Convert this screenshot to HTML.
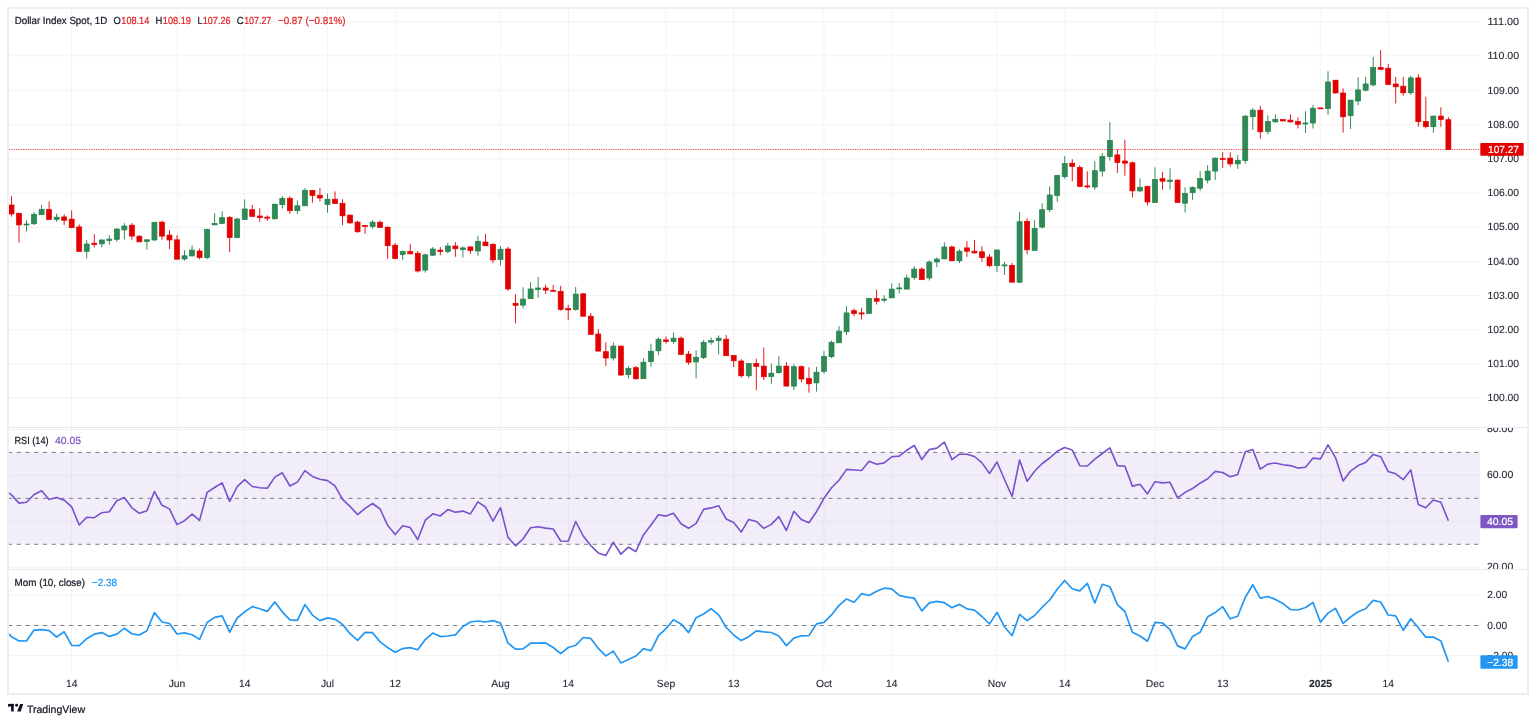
<!DOCTYPE html>
<html><head><meta charset="utf-8"><title>Dollar Index Spot</title>
<style>html,body{margin:0;padding:0;background:#fff;width:1536px;height:722px;overflow:hidden;font-family:"Liberation Sans",sans-serif}</style>
</head><body>
<svg width="1536" height="722" viewBox="0 0 1536 722" style="position:absolute;left:0;top:0;will-change:transform;text-rendering:geometricPrecision" font-family="Liberation Sans, sans-serif">
<defs>
<clipPath id="cm"><rect x="9" y="9" width="1471" height="418"/></clipPath>
<clipPath id="cr"><rect x="9" y="428" width="1471" height="141"/></clipPath>
<clipPath id="cmo"><rect x="9" y="570" width="1471" height="101"/></clipPath>
<clipPath id="am"><rect x="1480" y="9" width="47" height="418"/></clipPath>
<clipPath id="ar"><rect x="1480" y="428" width="47" height="141"/></clipPath>
<clipPath id="amo"><rect x="1480" y="570" width="47" height="101"/></clipPath>
</defs>
<rect width="1536" height="722" fill="#ffffff"/>
<rect x="8" y="8" width="1520" height="686" fill="none" stroke="#eeeff3" stroke-width="2"/>
<rect x="9" y="21.20" width="1471" height="1" fill="#f2f4f4"/>
<rect x="9" y="55.40" width="1471" height="1" fill="#f2f4f4"/>
<rect x="9" y="90.10" width="1471" height="1" fill="#f2f4f4"/>
<rect x="9" y="124.20" width="1471" height="1" fill="#f2f4f4"/>
<rect x="9" y="158.50" width="1471" height="1" fill="#f2f4f4"/>
<rect x="9" y="192.80" width="1471" height="1" fill="#f2f4f4"/>
<rect x="9" y="226.90" width="1471" height="1" fill="#f2f4f4"/>
<rect x="9" y="261.00" width="1471" height="1" fill="#f2f4f4"/>
<rect x="9" y="295.10" width="1471" height="1" fill="#f2f4f4"/>
<rect x="9" y="329.20" width="1471" height="1" fill="#f2f4f4"/>
<rect x="9" y="363.10" width="1471" height="1" fill="#f2f4f4"/>
<rect x="9" y="397.10" width="1471" height="1" fill="#f2f4f4"/>
<rect x="71.00" y="9" width="1" height="662" fill="#f2f4f4"/>
<rect x="177.05" y="9" width="1" height="662" fill="#f2f4f4"/>
<rect x="243.80" y="9" width="1" height="662" fill="#f2f4f4"/>
<rect x="326.90" y="9" width="1" height="662" fill="#f2f4f4"/>
<rect x="395.20" y="9" width="1" height="662" fill="#f2f4f4"/>
<rect x="500.00" y="9" width="1" height="662" fill="#f2f4f4"/>
<rect x="568.10" y="9" width="1" height="662" fill="#f2f4f4"/>
<rect x="665.50" y="9" width="1" height="662" fill="#f2f4f4"/>
<rect x="733.10" y="9" width="1" height="662" fill="#f2f4f4"/>
<rect x="823.47" y="9" width="1" height="662" fill="#f2f4f4"/>
<rect x="891.56" y="9" width="1" height="662" fill="#f2f4f4"/>
<rect x="996.30" y="9" width="1" height="662" fill="#f2f4f4"/>
<rect x="1064.80" y="9" width="1" height="662" fill="#f2f4f4"/>
<rect x="1155.06" y="9" width="1" height="662" fill="#f2f4f4"/>
<rect x="1222.30" y="9" width="1" height="662" fill="#f2f4f4"/>
<rect x="1319.70" y="9" width="1" height="662" fill="#f2f4f4"/>
<rect x="1388.00" y="9" width="1" height="662" fill="#f2f4f4"/>
<rect x="9" y="428.94" width="1471" height="1" fill="#f2f4f4"/>
<rect x="9" y="474.88" width="1471" height="1" fill="#f2f4f4"/>
<rect x="9" y="520.82" width="1471" height="1" fill="#f2f4f4"/>
<rect x="9" y="566.76" width="1471" height="1" fill="#f2f4f4"/>
<rect x="9" y="452.41" width="1471" height="91.88" fill="rgb(126,87,194)" fill-opacity="0.1"/>
<rect x="9" y="594.90" width="1471" height="1" fill="#f2f4f4"/>
<rect x="9" y="625.00" width="1471" height="1" fill="#f2f4f4"/>
<rect x="9" y="655.10" width="1471" height="1" fill="#f2f4f4"/>
<line x1="9" y1="452.41" x2="1480" y2="452.41" stroke="#787b86" stroke-width="1" stroke-dasharray="4 4.727" stroke-dashoffset="0.9"/>
<line x1="9" y1="498.35" x2="1480" y2="498.35" stroke="#787b86" stroke-width="1" stroke-dasharray="4 4.727" stroke-dashoffset="0.9"/>
<line x1="9" y1="544.29" x2="1480" y2="544.29" stroke="#787b86" stroke-width="1" stroke-dasharray="4 4.727" stroke-dashoffset="0.9"/>
<line x1="9" y1="625.50" x2="1480" y2="625.50" stroke="#787b86" stroke-width="1" stroke-dasharray="4 4.727" stroke-dashoffset="0.9"/>
<rect x="9" y="427" width="1518" height="1" fill="#eae8f2"/>
<rect x="9" y="569" width="1518" height="1" fill="#eae8f2"/>
<g clip-path="url(#cm)">
<rect x="11.05" y="196.10" width="0.9" height="20.50" fill="#e30000"/>
<rect x="9.00" y="205.00" width="5.0" height="9.00" fill="#e30000" stroke="#e30000" stroke-width="0.7"/>
<rect x="18.57" y="212.70" width="0.9" height="29.90" fill="#e30000"/>
<rect x="16.52" y="213.30" width="5.0" height="11.60" fill="#e30000" stroke="#e30000" stroke-width="0.7"/>
<rect x="26.10" y="220.30" width="0.9" height="11.30" fill="#1f8048"/>
<rect x="24.05" y="224.00" width="5.0" height="1.00" fill="#308a58" stroke="#1f8048" stroke-width="0.7"/>
<rect x="33.62" y="211.90" width="0.9" height="13.00" fill="#1f8048"/>
<rect x="31.57" y="214.40" width="5.0" height="9.40" fill="#308a58" stroke="#1f8048" stroke-width="0.7"/>
<rect x="41.14" y="205.00" width="0.9" height="9.70" fill="#1f8048"/>
<rect x="39.09" y="209.60" width="5.0" height="5.10" fill="#308a58" stroke="#1f8048" stroke-width="0.7"/>
<rect x="48.66" y="201.40" width="0.9" height="18.20" fill="#e30000"/>
<rect x="46.61" y="209.60" width="5.0" height="10.00" fill="#e30000" stroke="#e30000" stroke-width="0.7"/>
<rect x="56.19" y="213.60" width="0.9" height="8.20" fill="#1f8048"/>
<rect x="54.14" y="217.20" width="5.0" height="2.20" fill="#308a58" stroke="#1f8048" stroke-width="0.7"/>
<rect x="63.71" y="214.40" width="0.9" height="10.70" fill="#e30000"/>
<rect x="61.66" y="216.90" width="5.0" height="3.40" fill="#e30000" stroke="#e30000" stroke-width="0.7"/>
<rect x="71.23" y="210.30" width="0.9" height="17.90" fill="#e30000"/>
<rect x="69.18" y="219.10" width="5.0" height="8.60" fill="#e30000" stroke="#e30000" stroke-width="0.7"/>
<rect x="78.76" y="224.40" width="0.9" height="27.10" fill="#e30000"/>
<rect x="76.71" y="226.90" width="5.0" height="24.60" fill="#e30000" stroke="#e30000" stroke-width="0.7"/>
<rect x="86.28" y="239.90" width="0.9" height="18.50" fill="#1f8048"/>
<rect x="84.23" y="244.00" width="5.0" height="7.30" fill="#308a58" stroke="#1f8048" stroke-width="0.7"/>
<rect x="93.80" y="234.10" width="0.9" height="13.30" fill="#e30000"/>
<rect x="91.75" y="243.20" width="5.0" height="1.40" fill="#e30000" stroke="#e30000" stroke-width="0.7"/>
<rect x="101.33" y="239.30" width="0.9" height="8.00" fill="#1f8048"/>
<rect x="99.28" y="240.00" width="5.0" height="3.80" fill="#308a58" stroke="#1f8048" stroke-width="0.7"/>
<rect x="108.85" y="235.10" width="0.9" height="9.70" fill="#1f8048"/>
<rect x="106.80" y="239.10" width="5.0" height="1.40" fill="#308a58" stroke="#1f8048" stroke-width="0.7"/>
<rect x="116.37" y="227.90" width="0.9" height="13.80" fill="#1f8048"/>
<rect x="114.32" y="229.10" width="5.0" height="10.20" fill="#308a58" stroke="#1f8048" stroke-width="0.7"/>
<rect x="123.89" y="223.10" width="0.9" height="16.20" fill="#1f8048"/>
<rect x="121.84" y="226.00" width="5.0" height="3.90" fill="#308a58" stroke="#1f8048" stroke-width="0.7"/>
<rect x="131.42" y="223.10" width="0.9" height="16.50" fill="#e30000"/>
<rect x="129.37" y="225.20" width="5.0" height="10.90" fill="#e30000" stroke="#e30000" stroke-width="0.7"/>
<rect x="138.94" y="235.10" width="0.9" height="6.80" fill="#e30000"/>
<rect x="136.89" y="236.20" width="5.0" height="5.70" fill="#e30000" stroke="#e30000" stroke-width="0.7"/>
<rect x="146.46" y="239.30" width="0.9" height="10.40" fill="#1f8048"/>
<rect x="144.41" y="239.80" width="5.0" height="1.70" fill="#308a58" stroke="#1f8048" stroke-width="0.7"/>
<rect x="153.99" y="222.10" width="0.9" height="18.60" fill="#1f8048"/>
<rect x="151.94" y="222.30" width="5.0" height="17.70" fill="#308a58" stroke="#1f8048" stroke-width="0.7"/>
<rect x="161.51" y="220.60" width="0.9" height="19.00" fill="#e30000"/>
<rect x="159.46" y="222.10" width="5.0" height="14.00" fill="#e30000" stroke="#e30000" stroke-width="0.7"/>
<rect x="169.03" y="230.30" width="0.9" height="18.70" fill="#e30000"/>
<rect x="166.98" y="235.10" width="5.0" height="4.90" fill="#e30000" stroke="#e30000" stroke-width="0.7"/>
<rect x="176.56" y="235.10" width="0.9" height="24.10" fill="#e30000"/>
<rect x="174.51" y="239.80" width="5.0" height="19.40" fill="#e30000" stroke="#e30000" stroke-width="0.7"/>
<rect x="184.08" y="250.20" width="0.9" height="10.40" fill="#1f8048"/>
<rect x="182.03" y="255.80" width="5.0" height="3.20" fill="#308a58" stroke="#1f8048" stroke-width="0.7"/>
<rect x="191.60" y="245.40" width="0.9" height="11.10" fill="#1f8048"/>
<rect x="189.55" y="250.10" width="5.0" height="5.80" fill="#308a58" stroke="#1f8048" stroke-width="0.7"/>
<rect x="199.12" y="248.50" width="0.9" height="10.80" fill="#e30000"/>
<rect x="197.07" y="251.00" width="5.0" height="6.60" fill="#e30000" stroke="#e30000" stroke-width="0.7"/>
<rect x="206.65" y="228.80" width="0.9" height="30.50" fill="#1f8048"/>
<rect x="204.60" y="229.30" width="5.0" height="28.30" fill="#308a58" stroke="#1f8048" stroke-width="0.7"/>
<rect x="214.17" y="213.30" width="0.9" height="11.60" fill="#1f8048"/>
<rect x="212.12" y="223.50" width="5.0" height="1.40" fill="#308a58" stroke="#1f8048" stroke-width="0.7"/>
<rect x="221.69" y="211.30" width="0.9" height="12.20" fill="#1f8048"/>
<rect x="219.64" y="217.70" width="5.0" height="5.80" fill="#308a58" stroke="#1f8048" stroke-width="0.7"/>
<rect x="229.22" y="216.00" width="0.9" height="36.10" fill="#e30000"/>
<rect x="227.17" y="217.50" width="5.0" height="20.10" fill="#e30000" stroke="#e30000" stroke-width="0.7"/>
<rect x="236.74" y="217.70" width="0.9" height="20.50" fill="#1f8048"/>
<rect x="234.69" y="219.00" width="5.0" height="18.60" fill="#308a58" stroke="#1f8048" stroke-width="0.7"/>
<rect x="244.26" y="199.40" width="0.9" height="20.70" fill="#1f8048"/>
<rect x="242.21" y="209.00" width="5.0" height="10.40" fill="#308a58" stroke="#1f8048" stroke-width="0.7"/>
<rect x="251.79" y="204.90" width="0.9" height="11.50" fill="#e30000"/>
<rect x="249.74" y="209.70" width="5.0" height="6.70" fill="#e30000" stroke="#e30000" stroke-width="0.7"/>
<rect x="259.31" y="208.30" width="0.9" height="13.60" fill="#e30000"/>
<rect x="257.26" y="216.00" width="5.0" height="1.70" fill="#e30000" stroke="#e30000" stroke-width="0.7"/>
<rect x="266.83" y="215.30" width="0.9" height="5.70" fill="#e30000"/>
<rect x="264.78" y="217.10" width="5.0" height="1.10" fill="#e30000" stroke="#e30000" stroke-width="0.7"/>
<rect x="274.36" y="203.80" width="0.9" height="15.60" fill="#1f8048"/>
<rect x="272.31" y="204.20" width="5.0" height="14.60" fill="#308a58" stroke="#1f8048" stroke-width="0.7"/>
<rect x="281.88" y="196.10" width="0.9" height="12.40" fill="#1f8048"/>
<rect x="279.83" y="198.30" width="5.0" height="6.40" fill="#308a58" stroke="#1f8048" stroke-width="0.7"/>
<rect x="289.40" y="196.10" width="0.9" height="17.90" fill="#e30000"/>
<rect x="287.35" y="198.30" width="5.0" height="12.40" fill="#e30000" stroke="#e30000" stroke-width="0.7"/>
<rect x="296.92" y="200.30" width="0.9" height="13.50" fill="#1f8048"/>
<rect x="294.87" y="205.80" width="5.0" height="4.90" fill="#308a58" stroke="#1f8048" stroke-width="0.7"/>
<rect x="304.45" y="188.10" width="0.9" height="17.70" fill="#1f8048"/>
<rect x="302.40" y="190.30" width="5.0" height="15.50" fill="#308a58" stroke="#1f8048" stroke-width="0.7"/>
<rect x="311.97" y="190.00" width="0.9" height="12.70" fill="#e30000"/>
<rect x="309.92" y="190.50" width="5.0" height="5.00" fill="#e30000" stroke="#e30000" stroke-width="0.7"/>
<rect x="319.49" y="188.10" width="0.9" height="13.50" fill="#e30000"/>
<rect x="317.44" y="195.20" width="5.0" height="2.80" fill="#e30000" stroke="#e30000" stroke-width="0.7"/>
<rect x="327.02" y="193.60" width="0.9" height="19.10" fill="#1f8048"/>
<rect x="324.97" y="199.20" width="5.0" height="5.20" fill="#308a58" stroke="#1f8048" stroke-width="0.7"/>
<rect x="334.54" y="191.40" width="0.9" height="12.20" fill="#e30000"/>
<rect x="332.49" y="199.20" width="5.0" height="4.40" fill="#e30000" stroke="#e30000" stroke-width="0.7"/>
<rect x="342.06" y="199.20" width="0.9" height="25.90" fill="#e30000"/>
<rect x="340.01" y="203.30" width="5.0" height="12.50" fill="#e30000" stroke="#e30000" stroke-width="0.7"/>
<rect x="349.58" y="214.40" width="0.9" height="9.40" fill="#e30000"/>
<rect x="347.53" y="215.10" width="5.0" height="7.80" fill="#e30000" stroke="#e30000" stroke-width="0.7"/>
<rect x="357.11" y="220.70" width="0.9" height="11.90" fill="#e30000"/>
<rect x="355.06" y="222.10" width="5.0" height="9.70" fill="#e30000" stroke="#e30000" stroke-width="0.7"/>
<rect x="364.63" y="225.40" width="0.9" height="8.40" fill="#e30000"/>
<rect x="362.58" y="225.40" width="5.0" height="1.00" fill="#e30000" stroke="#e30000" stroke-width="0.7"/>
<rect x="372.15" y="220.00" width="0.9" height="8.60" fill="#1f8048"/>
<rect x="370.10" y="222.20" width="5.0" height="4.40" fill="#308a58" stroke="#1f8048" stroke-width="0.7"/>
<rect x="379.68" y="220.50" width="0.9" height="7.00" fill="#e30000"/>
<rect x="377.63" y="222.20" width="5.0" height="5.30" fill="#e30000" stroke="#e30000" stroke-width="0.7"/>
<rect x="387.20" y="226.40" width="0.9" height="32.40" fill="#e30000"/>
<rect x="385.15" y="227.20" width="5.0" height="18.50" fill="#e30000" stroke="#e30000" stroke-width="0.7"/>
<rect x="394.72" y="243.00" width="0.9" height="16.30" fill="#e30000"/>
<rect x="392.67" y="245.20" width="5.0" height="13.30" fill="#e30000" stroke="#e30000" stroke-width="0.7"/>
<rect x="402.25" y="250.40" width="0.9" height="9.50" fill="#1f8048"/>
<rect x="400.20" y="251.60" width="5.0" height="2.90" fill="#308a58" stroke="#1f8048" stroke-width="0.7"/>
<rect x="409.77" y="243.80" width="0.9" height="10.70" fill="#e30000"/>
<rect x="407.72" y="251.60" width="5.0" height="2.20" fill="#e30000" stroke="#e30000" stroke-width="0.7"/>
<rect x="417.29" y="251.00" width="0.9" height="21.60" fill="#e30000"/>
<rect x="415.24" y="253.20" width="5.0" height="17.80" fill="#e30000" stroke="#e30000" stroke-width="0.7"/>
<rect x="424.81" y="253.40" width="0.9" height="19.20" fill="#1f8048"/>
<rect x="422.76" y="254.90" width="5.0" height="15.20" fill="#308a58" stroke="#1f8048" stroke-width="0.7"/>
<rect x="432.34" y="247.10" width="0.9" height="8.90" fill="#1f8048"/>
<rect x="430.29" y="249.00" width="5.0" height="6.20" fill="#308a58" stroke="#1f8048" stroke-width="0.7"/>
<rect x="439.86" y="247.10" width="0.9" height="8.10" fill="#e30000"/>
<rect x="437.81" y="250.10" width="5.0" height="1.50" fill="#e30000" stroke="#e30000" stroke-width="0.7"/>
<rect x="447.38" y="243.00" width="0.9" height="10.40" fill="#1f8048"/>
<rect x="445.33" y="246.00" width="5.0" height="5.60" fill="#308a58" stroke="#1f8048" stroke-width="0.7"/>
<rect x="454.91" y="242.10" width="0.9" height="14.70" fill="#e30000"/>
<rect x="452.86" y="246.00" width="5.0" height="2.80" fill="#e30000" stroke="#e30000" stroke-width="0.7"/>
<rect x="462.43" y="246.50" width="0.9" height="11.00" fill="#1f8048"/>
<rect x="460.38" y="247.90" width="5.0" height="1.80" fill="#308a58" stroke="#1f8048" stroke-width="0.7"/>
<rect x="469.95" y="246.50" width="0.9" height="7.30" fill="#e30000"/>
<rect x="467.90" y="246.90" width="5.0" height="3.70" fill="#e30000" stroke="#e30000" stroke-width="0.7"/>
<rect x="477.48" y="235.80" width="0.9" height="19.90" fill="#1f8048"/>
<rect x="475.43" y="241.30" width="5.0" height="9.70" fill="#308a58" stroke="#1f8048" stroke-width="0.7"/>
<rect x="485.00" y="234.00" width="0.9" height="11.80" fill="#e30000"/>
<rect x="482.95" y="242.00" width="5.0" height="3.80" fill="#e30000" stroke="#e30000" stroke-width="0.7"/>
<rect x="492.52" y="243.00" width="0.9" height="20.10" fill="#e30000"/>
<rect x="490.47" y="244.40" width="5.0" height="15.50" fill="#e30000" stroke="#e30000" stroke-width="0.7"/>
<rect x="500.05" y="246.10" width="0.9" height="19.30" fill="#1f8048"/>
<rect x="498.00" y="249.20" width="5.0" height="10.40" fill="#308a58" stroke="#1f8048" stroke-width="0.7"/>
<rect x="507.57" y="246.90" width="0.9" height="43.90" fill="#e30000"/>
<rect x="505.52" y="249.00" width="5.0" height="40.00" fill="#e30000" stroke="#e30000" stroke-width="0.7"/>
<rect x="515.09" y="294.30" width="0.9" height="29.00" fill="#e30000"/>
<rect x="513.04" y="303.30" width="5.0" height="2.00" fill="#e30000" stroke="#e30000" stroke-width="0.7"/>
<rect x="522.61" y="287.30" width="0.9" height="21.10" fill="#1f8048"/>
<rect x="520.56" y="299.10" width="5.0" height="6.00" fill="#308a58" stroke="#1f8048" stroke-width="0.7"/>
<rect x="530.14" y="282.10" width="0.9" height="16.60" fill="#1f8048"/>
<rect x="528.09" y="289.00" width="5.0" height="9.70" fill="#308a58" stroke="#1f8048" stroke-width="0.7"/>
<rect x="537.66" y="276.90" width="0.9" height="20.80" fill="#1f8048"/>
<rect x="535.61" y="288.00" width="5.0" height="1.40" fill="#308a58" stroke="#1f8048" stroke-width="0.7"/>
<rect x="545.18" y="284.80" width="0.9" height="9.20" fill="#e30000"/>
<rect x="543.13" y="288.00" width="5.0" height="2.10" fill="#e30000" stroke="#e30000" stroke-width="0.7"/>
<rect x="552.71" y="285.00" width="0.9" height="6.30" fill="#e30000"/>
<rect x="550.66" y="290.30" width="5.0" height="1.00" fill="#e30000" stroke="#e30000" stroke-width="0.7"/>
<rect x="560.23" y="285.80" width="0.9" height="24.90" fill="#e30000"/>
<rect x="558.18" y="291.30" width="5.0" height="18.20" fill="#e30000" stroke="#e30000" stroke-width="0.7"/>
<rect x="567.75" y="304.60" width="0.9" height="15.60" fill="#e30000"/>
<rect x="565.70" y="308.50" width="5.0" height="1.40" fill="#e30000" stroke="#e30000" stroke-width="0.7"/>
<rect x="575.27" y="286.90" width="0.9" height="23.80" fill="#1f8048"/>
<rect x="573.23" y="294.10" width="5.0" height="15.40" fill="#308a58" stroke="#1f8048" stroke-width="0.7"/>
<rect x="582.80" y="293.30" width="0.9" height="22.90" fill="#e30000"/>
<rect x="580.75" y="293.80" width="5.0" height="22.40" fill="#e30000" stroke="#e30000" stroke-width="0.7"/>
<rect x="590.32" y="312.90" width="0.9" height="21.60" fill="#e30000"/>
<rect x="588.27" y="316.20" width="5.0" height="18.30" fill="#e30000" stroke="#e30000" stroke-width="0.7"/>
<rect x="597.84" y="329.00" width="0.9" height="22.10" fill="#e30000"/>
<rect x="595.79" y="334.00" width="5.0" height="17.10" fill="#e30000" stroke="#e30000" stroke-width="0.7"/>
<rect x="605.37" y="342.30" width="0.9" height="23.70" fill="#e30000"/>
<rect x="603.32" y="351.70" width="5.0" height="6.30" fill="#e30000" stroke="#e30000" stroke-width="0.7"/>
<rect x="612.89" y="342.30" width="0.9" height="18.20" fill="#1f8048"/>
<rect x="610.84" y="346.10" width="5.0" height="11.90" fill="#308a58" stroke="#1f8048" stroke-width="0.7"/>
<rect x="620.41" y="345.60" width="0.9" height="30.40" fill="#e30000"/>
<rect x="618.36" y="346.10" width="5.0" height="28.90" fill="#e30000" stroke="#e30000" stroke-width="0.7"/>
<rect x="627.94" y="366.30" width="0.9" height="12.00" fill="#1f8048"/>
<rect x="625.89" y="368.30" width="5.0" height="6.40" fill="#308a58" stroke="#1f8048" stroke-width="0.7"/>
<rect x="635.46" y="366.00" width="0.9" height="13.60" fill="#e30000"/>
<rect x="633.41" y="367.70" width="5.0" height="11.10" fill="#e30000" stroke="#e30000" stroke-width="0.7"/>
<rect x="642.98" y="358.30" width="0.9" height="20.40" fill="#1f8048"/>
<rect x="640.93" y="362.20" width="5.0" height="16.50" fill="#308a58" stroke="#1f8048" stroke-width="0.7"/>
<rect x="650.50" y="343.80" width="0.9" height="23.00" fill="#1f8048"/>
<rect x="648.45" y="351.20" width="5.0" height="10.50" fill="#308a58" stroke="#1f8048" stroke-width="0.7"/>
<rect x="658.03" y="337.50" width="0.9" height="17.60" fill="#1f8048"/>
<rect x="655.98" y="339.20" width="5.0" height="11.60" fill="#308a58" stroke="#1f8048" stroke-width="0.7"/>
<rect x="665.55" y="336.50" width="0.9" height="7.00" fill="#e30000"/>
<rect x="663.50" y="339.90" width="5.0" height="1.60" fill="#e30000" stroke="#e30000" stroke-width="0.7"/>
<rect x="673.07" y="332.60" width="0.9" height="11.20" fill="#1f8048"/>
<rect x="671.02" y="338.20" width="5.0" height="3.30" fill="#308a58" stroke="#1f8048" stroke-width="0.7"/>
<rect x="680.60" y="336.50" width="0.9" height="18.60" fill="#e30000"/>
<rect x="678.55" y="338.20" width="5.0" height="16.20" fill="#e30000" stroke="#e30000" stroke-width="0.7"/>
<rect x="688.12" y="351.00" width="0.9" height="13.80" fill="#e30000"/>
<rect x="686.07" y="354.10" width="5.0" height="8.10" fill="#e30000" stroke="#e30000" stroke-width="0.7"/>
<rect x="695.64" y="350.30" width="0.9" height="27.90" fill="#1f8048"/>
<rect x="693.59" y="357.30" width="5.0" height="4.60" fill="#308a58" stroke="#1f8048" stroke-width="0.7"/>
<rect x="703.17" y="339.90" width="0.9" height="19.10" fill="#1f8048"/>
<rect x="701.12" y="342.30" width="5.0" height="15.30" fill="#308a58" stroke="#1f8048" stroke-width="0.7"/>
<rect x="710.69" y="337.50" width="0.9" height="7.20" fill="#1f8048"/>
<rect x="708.64" y="340.60" width="5.0" height="1.50" fill="#308a58" stroke="#1f8048" stroke-width="0.7"/>
<rect x="718.21" y="335.50" width="0.9" height="18.90" fill="#1f8048"/>
<rect x="716.16" y="338.20" width="5.0" height="2.40" fill="#308a58" stroke="#1f8048" stroke-width="0.7"/>
<rect x="725.73" y="335.00" width="0.9" height="20.70" fill="#e30000"/>
<rect x="723.68" y="339.20" width="5.0" height="16.50" fill="#e30000" stroke="#e30000" stroke-width="0.7"/>
<rect x="733.26" y="355.00" width="0.9" height="12.10" fill="#e30000"/>
<rect x="731.21" y="355.40" width="5.0" height="5.40" fill="#e30000" stroke="#e30000" stroke-width="0.7"/>
<rect x="740.78" y="359.30" width="0.9" height="18.40" fill="#e30000"/>
<rect x="738.73" y="361.00" width="5.0" height="14.80" fill="#e30000" stroke="#e30000" stroke-width="0.7"/>
<rect x="748.30" y="363.00" width="0.9" height="15.00" fill="#1f8048"/>
<rect x="746.25" y="363.50" width="5.0" height="12.30" fill="#308a58" stroke="#1f8048" stroke-width="0.7"/>
<rect x="755.83" y="358.60" width="0.9" height="31.70" fill="#e30000"/>
<rect x="753.78" y="363.50" width="5.0" height="2.90" fill="#e30000" stroke="#e30000" stroke-width="0.7"/>
<rect x="763.35" y="347.50" width="0.9" height="32.50" fill="#e30000"/>
<rect x="761.30" y="366.10" width="5.0" height="10.70" fill="#e30000" stroke="#e30000" stroke-width="0.7"/>
<rect x="770.87" y="363.50" width="0.9" height="20.30" fill="#1f8048"/>
<rect x="768.82" y="373.20" width="5.0" height="3.40" fill="#308a58" stroke="#1f8048" stroke-width="0.7"/>
<rect x="778.40" y="356.20" width="0.9" height="17.40" fill="#1f8048"/>
<rect x="776.35" y="366.10" width="5.0" height="6.60" fill="#308a58" stroke="#1f8048" stroke-width="0.7"/>
<rect x="785.92" y="362.00" width="0.9" height="24.10" fill="#e30000"/>
<rect x="783.87" y="366.10" width="5.0" height="20.00" fill="#e30000" stroke="#e30000" stroke-width="0.7"/>
<rect x="793.44" y="364.10" width="0.9" height="26.00" fill="#1f8048"/>
<rect x="791.39" y="366.70" width="5.0" height="19.40" fill="#308a58" stroke="#1f8048" stroke-width="0.7"/>
<rect x="800.96" y="365.40" width="0.9" height="17.00" fill="#e30000"/>
<rect x="798.91" y="366.70" width="5.0" height="12.30" fill="#e30000" stroke="#e30000" stroke-width="0.7"/>
<rect x="808.49" y="367.30" width="0.9" height="25.30" fill="#e30000"/>
<rect x="806.44" y="378.50" width="5.0" height="5.30" fill="#e30000" stroke="#e30000" stroke-width="0.7"/>
<rect x="816.01" y="366.90" width="0.9" height="24.70" fill="#1f8048"/>
<rect x="813.96" y="372.20" width="5.0" height="10.70" fill="#308a58" stroke="#1f8048" stroke-width="0.7"/>
<rect x="823.53" y="351.10" width="0.9" height="22.70" fill="#1f8048"/>
<rect x="821.48" y="356.40" width="5.0" height="14.90" fill="#308a58" stroke="#1f8048" stroke-width="0.7"/>
<rect x="831.06" y="340.60" width="0.9" height="17.40" fill="#1f8048"/>
<rect x="829.01" y="342.30" width="5.0" height="14.40" fill="#308a58" stroke="#1f8048" stroke-width="0.7"/>
<rect x="838.58" y="326.10" width="0.9" height="16.70" fill="#1f8048"/>
<rect x="836.53" y="331.10" width="5.0" height="11.70" fill="#308a58" stroke="#1f8048" stroke-width="0.7"/>
<rect x="846.10" y="306.20" width="0.9" height="28.90" fill="#1f8048"/>
<rect x="844.05" y="312.90" width="5.0" height="18.90" fill="#308a58" stroke="#1f8048" stroke-width="0.7"/>
<rect x="853.63" y="308.50" width="0.9" height="7.70" fill="#e30000"/>
<rect x="851.58" y="310.70" width="5.0" height="2.80" fill="#e30000" stroke="#e30000" stroke-width="0.7"/>
<rect x="861.15" y="307.90" width="0.9" height="11.60" fill="#e30000"/>
<rect x="859.10" y="312.90" width="5.0" height="1.10" fill="#e30000" stroke="#e30000" stroke-width="0.7"/>
<rect x="868.67" y="297.90" width="0.9" height="16.10" fill="#1f8048"/>
<rect x="866.62" y="298.60" width="5.0" height="14.90" fill="#308a58" stroke="#1f8048" stroke-width="0.7"/>
<rect x="876.19" y="289.60" width="0.9" height="15.00" fill="#e30000"/>
<rect x="874.14" y="298.60" width="5.0" height="2.60" fill="#e30000" stroke="#e30000" stroke-width="0.7"/>
<rect x="883.72" y="295.20" width="0.9" height="7.20" fill="#1f8048"/>
<rect x="881.67" y="299.10" width="5.0" height="1.10" fill="#308a58" stroke="#1f8048" stroke-width="0.7"/>
<rect x="891.24" y="283.30" width="0.9" height="14.60" fill="#1f8048"/>
<rect x="889.19" y="289.10" width="5.0" height="8.80" fill="#308a58" stroke="#1f8048" stroke-width="0.7"/>
<rect x="898.76" y="283.00" width="0.9" height="10.60" fill="#1f8048"/>
<rect x="896.71" y="287.90" width="5.0" height="1.00" fill="#308a58" stroke="#1f8048" stroke-width="0.7"/>
<rect x="906.29" y="274.70" width="0.9" height="14.40" fill="#1f8048"/>
<rect x="904.24" y="278.00" width="5.0" height="11.10" fill="#308a58" stroke="#1f8048" stroke-width="0.7"/>
<rect x="913.81" y="266.20" width="0.9" height="13.50" fill="#1f8048"/>
<rect x="911.76" y="269.10" width="5.0" height="8.40" fill="#308a58" stroke="#1f8048" stroke-width="0.7"/>
<rect x="921.33" y="267.40" width="0.9" height="12.30" fill="#e30000"/>
<rect x="919.28" y="269.10" width="5.0" height="10.60" fill="#e30000" stroke="#e30000" stroke-width="0.7"/>
<rect x="928.86" y="260.30" width="0.9" height="20.20" fill="#1f8048"/>
<rect x="926.81" y="262.00" width="5.0" height="16.00" fill="#308a58" stroke="#1f8048" stroke-width="0.7"/>
<rect x="936.38" y="257.30" width="0.9" height="9.90" fill="#1f8048"/>
<rect x="934.33" y="259.10" width="5.0" height="2.90" fill="#308a58" stroke="#1f8048" stroke-width="0.7"/>
<rect x="943.90" y="242.30" width="0.9" height="16.60" fill="#1f8048"/>
<rect x="941.85" y="247.00" width="5.0" height="11.90" fill="#308a58" stroke="#1f8048" stroke-width="0.7"/>
<rect x="951.42" y="245.40" width="0.9" height="15.40" fill="#e30000"/>
<rect x="949.38" y="247.00" width="5.0" height="13.80" fill="#e30000" stroke="#e30000" stroke-width="0.7"/>
<rect x="958.95" y="249.30" width="0.9" height="13.80" fill="#1f8048"/>
<rect x="956.90" y="251.20" width="5.0" height="9.60" fill="#308a58" stroke="#1f8048" stroke-width="0.7"/>
<rect x="966.47" y="241.20" width="0.9" height="15.60" fill="#e30000"/>
<rect x="964.42" y="247.90" width="5.0" height="3.30" fill="#e30000" stroke="#e30000" stroke-width="0.7"/>
<rect x="973.99" y="239.80" width="0.9" height="13.90" fill="#e30000"/>
<rect x="971.94" y="251.20" width="5.0" height="1.70" fill="#e30000" stroke="#e30000" stroke-width="0.7"/>
<rect x="981.52" y="246.20" width="0.9" height="15.60" fill="#e30000"/>
<rect x="979.47" y="251.80" width="5.0" height="5.80" fill="#e30000" stroke="#e30000" stroke-width="0.7"/>
<rect x="989.04" y="254.10" width="0.9" height="13.10" fill="#e30000"/>
<rect x="986.99" y="257.00" width="5.0" height="8.70" fill="#e30000" stroke="#e30000" stroke-width="0.7"/>
<rect x="996.56" y="249.50" width="0.9" height="22.50" fill="#1f8048"/>
<rect x="994.51" y="250.00" width="5.0" height="15.70" fill="#308a58" stroke="#1f8048" stroke-width="0.7"/>
<rect x="1004.09" y="262.00" width="0.9" height="13.00" fill="#1f8048"/>
<rect x="1002.04" y="264.90" width="5.0" height="1.00" fill="#308a58" stroke="#1f8048" stroke-width="0.7"/>
<rect x="1011.61" y="262.80" width="0.9" height="19.40" fill="#e30000"/>
<rect x="1009.56" y="265.30" width="5.0" height="16.90" fill="#e30000" stroke="#e30000" stroke-width="0.7"/>
<rect x="1019.13" y="212.00" width="0.9" height="70.80" fill="#1f8048"/>
<rect x="1017.08" y="221.70" width="5.0" height="60.50" fill="#308a58" stroke="#1f8048" stroke-width="0.7"/>
<rect x="1026.65" y="218.20" width="0.9" height="36.10" fill="#e30000"/>
<rect x="1024.61" y="221.30" width="5.0" height="28.50" fill="#e30000" stroke="#e30000" stroke-width="0.7"/>
<rect x="1034.18" y="220.20" width="0.9" height="30.20" fill="#1f8048"/>
<rect x="1032.13" y="228.50" width="5.0" height="21.90" fill="#308a58" stroke="#1f8048" stroke-width="0.7"/>
<rect x="1041.70" y="203.30" width="0.9" height="25.20" fill="#1f8048"/>
<rect x="1039.65" y="209.70" width="5.0" height="17.40" fill="#308a58" stroke="#1f8048" stroke-width="0.7"/>
<rect x="1049.22" y="186.40" width="0.9" height="25.60" fill="#1f8048"/>
<rect x="1047.17" y="195.00" width="5.0" height="14.70" fill="#308a58" stroke="#1f8048" stroke-width="0.7"/>
<rect x="1056.75" y="174.80" width="0.9" height="27.10" fill="#1f8048"/>
<rect x="1054.70" y="175.60" width="5.0" height="19.90" fill="#308a58" stroke="#1f8048" stroke-width="0.7"/>
<rect x="1064.27" y="156.20" width="0.9" height="22.50" fill="#1f8048"/>
<rect x="1062.22" y="163.60" width="5.0" height="13.10" fill="#308a58" stroke="#1f8048" stroke-width="0.7"/>
<rect x="1071.79" y="159.30" width="0.9" height="22.10" fill="#e30000"/>
<rect x="1069.74" y="163.20" width="5.0" height="3.30" fill="#e30000" stroke="#e30000" stroke-width="0.7"/>
<rect x="1079.32" y="165.10" width="0.9" height="22.10" fill="#e30000"/>
<rect x="1077.27" y="167.40" width="5.0" height="19.00" fill="#e30000" stroke="#e30000" stroke-width="0.7"/>
<rect x="1086.84" y="171.30" width="0.9" height="17.10" fill="#e30000"/>
<rect x="1084.79" y="185.90" width="5.0" height="1.00" fill="#e30000" stroke="#e30000" stroke-width="0.7"/>
<rect x="1094.36" y="161.40" width="0.9" height="28.40" fill="#1f8048"/>
<rect x="1092.31" y="170.70" width="5.0" height="16.30" fill="#308a58" stroke="#1f8048" stroke-width="0.7"/>
<rect x="1101.88" y="153.10" width="0.9" height="23.50" fill="#1f8048"/>
<rect x="1099.84" y="156.30" width="5.0" height="14.80" fill="#308a58" stroke="#1f8048" stroke-width="0.7"/>
<rect x="1109.41" y="122.20" width="0.9" height="38.50" fill="#1f8048"/>
<rect x="1107.36" y="140.60" width="5.0" height="16.00" fill="#308a58" stroke="#1f8048" stroke-width="0.7"/>
<rect x="1116.93" y="149.30" width="0.9" height="23.60" fill="#e30000"/>
<rect x="1114.88" y="154.90" width="5.0" height="7.50" fill="#e30000" stroke="#e30000" stroke-width="0.7"/>
<rect x="1124.45" y="139.70" width="0.9" height="36.00" fill="#e30000"/>
<rect x="1122.40" y="161.00" width="5.0" height="2.20" fill="#e30000" stroke="#e30000" stroke-width="0.7"/>
<rect x="1131.98" y="161.40" width="0.9" height="36.00" fill="#e30000"/>
<rect x="1129.93" y="162.80" width="5.0" height="28.10" fill="#e30000" stroke="#e30000" stroke-width="0.7"/>
<rect x="1139.50" y="178.40" width="0.9" height="13.50" fill="#1f8048"/>
<rect x="1137.45" y="187.30" width="5.0" height="3.60" fill="#308a58" stroke="#1f8048" stroke-width="0.7"/>
<rect x="1147.02" y="186.30" width="0.9" height="19.00" fill="#e30000"/>
<rect x="1144.97" y="186.30" width="5.0" height="15.70" fill="#e30000" stroke="#e30000" stroke-width="0.7"/>
<rect x="1154.55" y="167.40" width="0.9" height="35.10" fill="#1f8048"/>
<rect x="1152.50" y="179.40" width="5.0" height="23.10" fill="#308a58" stroke="#1f8048" stroke-width="0.7"/>
<rect x="1162.07" y="172.10" width="0.9" height="17.40" fill="#e30000"/>
<rect x="1160.02" y="178.70" width="5.0" height="2.50" fill="#e30000" stroke="#e30000" stroke-width="0.7"/>
<rect x="1169.59" y="168.30" width="0.9" height="21.20" fill="#1f8048"/>
<rect x="1167.54" y="180.10" width="5.0" height="1.40" fill="#308a58" stroke="#1f8048" stroke-width="0.7"/>
<rect x="1177.12" y="179.40" width="0.9" height="23.10" fill="#e30000"/>
<rect x="1175.07" y="180.10" width="5.0" height="22.40" fill="#e30000" stroke="#e30000" stroke-width="0.7"/>
<rect x="1184.64" y="187.30" width="0.9" height="25.20" fill="#1f8048"/>
<rect x="1182.59" y="193.60" width="5.0" height="9.60" fill="#308a58" stroke="#1f8048" stroke-width="0.7"/>
<rect x="1192.16" y="186.40" width="0.9" height="13.50" fill="#1f8048"/>
<rect x="1190.11" y="187.30" width="5.0" height="5.40" fill="#308a58" stroke="#1f8048" stroke-width="0.7"/>
<rect x="1199.68" y="171.10" width="0.9" height="19.80" fill="#1f8048"/>
<rect x="1197.63" y="178.60" width="5.0" height="9.60" fill="#308a58" stroke="#1f8048" stroke-width="0.7"/>
<rect x="1207.21" y="165.30" width="0.9" height="18.00" fill="#1f8048"/>
<rect x="1205.16" y="171.10" width="5.0" height="9.00" fill="#308a58" stroke="#1f8048" stroke-width="0.7"/>
<rect x="1214.73" y="157.60" width="0.9" height="22.50" fill="#1f8048"/>
<rect x="1212.68" y="158.10" width="5.0" height="13.00" fill="#308a58" stroke="#1f8048" stroke-width="0.7"/>
<rect x="1222.25" y="152.20" width="0.9" height="15.60" fill="#e30000"/>
<rect x="1220.20" y="158.50" width="5.0" height="1.00" fill="#e30000" stroke="#e30000" stroke-width="0.7"/>
<rect x="1229.78" y="152.20" width="0.9" height="14.40" fill="#e30000"/>
<rect x="1227.73" y="158.10" width="5.0" height="5.80" fill="#e30000" stroke="#e30000" stroke-width="0.7"/>
<rect x="1237.30" y="155.20" width="0.9" height="13.70" fill="#1f8048"/>
<rect x="1235.25" y="160.30" width="5.0" height="3.60" fill="#308a58" stroke="#1f8048" stroke-width="0.7"/>
<rect x="1244.82" y="115.20" width="0.9" height="48.70" fill="#1f8048"/>
<rect x="1242.77" y="116.10" width="5.0" height="44.50" fill="#308a58" stroke="#1f8048" stroke-width="0.7"/>
<rect x="1252.34" y="108.00" width="0.9" height="21.60" fill="#1f8048"/>
<rect x="1250.29" y="110.20" width="5.0" height="6.50" fill="#308a58" stroke="#1f8048" stroke-width="0.7"/>
<rect x="1259.87" y="105.90" width="0.9" height="32.70" fill="#e30000"/>
<rect x="1257.82" y="110.20" width="5.0" height="21.60" fill="#e30000" stroke="#e30000" stroke-width="0.7"/>
<rect x="1267.39" y="115.20" width="0.9" height="19.50" fill="#1f8048"/>
<rect x="1265.34" y="121.50" width="5.0" height="9.90" fill="#308a58" stroke="#1f8048" stroke-width="0.7"/>
<rect x="1274.91" y="114.30" width="0.9" height="8.30" fill="#1f8048"/>
<rect x="1272.86" y="119.30" width="5.0" height="2.60" fill="#308a58" stroke="#1f8048" stroke-width="0.7"/>
<rect x="1282.44" y="119.30" width="0.9" height="1.90" fill="#e30000"/>
<rect x="1280.39" y="119.60" width="5.0" height="1.40" fill="#e30000" stroke="#e30000" stroke-width="0.7"/>
<rect x="1289.96" y="114.30" width="0.9" height="8.30" fill="#e30000"/>
<rect x="1287.91" y="120.10" width="5.0" height="1.80" fill="#e30000" stroke="#e30000" stroke-width="0.7"/>
<rect x="1297.48" y="117.40" width="0.9" height="11.10" fill="#e30000"/>
<rect x="1295.43" y="121.50" width="5.0" height="2.80" fill="#e30000" stroke="#e30000" stroke-width="0.7"/>
<rect x="1305.01" y="111.20" width="0.9" height="21.80" fill="#1f8048"/>
<rect x="1302.96" y="123.00" width="5.0" height="1.00" fill="#308a58" stroke="#1f8048" stroke-width="0.7"/>
<rect x="1312.53" y="104.90" width="0.9" height="23.60" fill="#1f8048"/>
<rect x="1310.48" y="108.20" width="5.0" height="14.80" fill="#308a58" stroke="#1f8048" stroke-width="0.7"/>
<rect x="1320.05" y="107.90" width="0.9" height="0.90" fill="#e30000"/>
<rect x="1318.00" y="107.90" width="5.0" height="1.00" fill="#e30000" stroke="#e30000" stroke-width="0.7"/>
<rect x="1327.57" y="71.30" width="0.9" height="43.60" fill="#1f8048"/>
<rect x="1325.52" y="82.00" width="5.0" height="26.60" fill="#308a58" stroke="#1f8048" stroke-width="0.7"/>
<rect x="1335.10" y="80.00" width="0.9" height="13.50" fill="#e30000"/>
<rect x="1333.05" y="80.20" width="5.0" height="12.80" fill="#e30000" stroke="#e30000" stroke-width="0.7"/>
<rect x="1342.62" y="88.30" width="0.9" height="44.30" fill="#e30000"/>
<rect x="1340.57" y="93.00" width="5.0" height="23.80" fill="#e30000" stroke="#e30000" stroke-width="0.7"/>
<rect x="1350.14" y="100.10" width="0.9" height="28.90" fill="#1f8048"/>
<rect x="1348.09" y="100.10" width="5.0" height="15.60" fill="#308a58" stroke="#1f8048" stroke-width="0.7"/>
<rect x="1357.67" y="77.20" width="0.9" height="28.00" fill="#1f8048"/>
<rect x="1355.62" y="89.90" width="5.0" height="11.10" fill="#308a58" stroke="#1f8048" stroke-width="0.7"/>
<rect x="1365.19" y="76.90" width="0.9" height="14.60" fill="#1f8048"/>
<rect x="1363.14" y="84.00" width="5.0" height="6.20" fill="#308a58" stroke="#1f8048" stroke-width="0.7"/>
<rect x="1372.71" y="56.90" width="0.9" height="29.90" fill="#1f8048"/>
<rect x="1370.66" y="67.40" width="5.0" height="17.50" fill="#308a58" stroke="#1f8048" stroke-width="0.7"/>
<rect x="1380.24" y="50.00" width="0.9" height="19.60" fill="#e30000"/>
<rect x="1378.19" y="67.40" width="5.0" height="2.20" fill="#e30000" stroke="#e30000" stroke-width="0.7"/>
<rect x="1387.76" y="64.10" width="0.9" height="20.40" fill="#e30000"/>
<rect x="1385.71" y="68.20" width="5.0" height="16.30" fill="#e30000" stroke="#e30000" stroke-width="0.7"/>
<rect x="1395.28" y="76.90" width="0.9" height="26.60" fill="#e30000"/>
<rect x="1393.23" y="84.00" width="5.0" height="2.80" fill="#e30000" stroke="#e30000" stroke-width="0.7"/>
<rect x="1402.80" y="76.90" width="0.9" height="18.70" fill="#e30000"/>
<rect x="1400.75" y="86.20" width="5.0" height="6.60" fill="#e30000" stroke="#e30000" stroke-width="0.7"/>
<rect x="1410.33" y="75.70" width="0.9" height="19.10" fill="#1f8048"/>
<rect x="1408.28" y="77.90" width="5.0" height="14.90" fill="#308a58" stroke="#1f8048" stroke-width="0.7"/>
<rect x="1417.85" y="74.10" width="0.9" height="52.60" fill="#e30000"/>
<rect x="1415.80" y="77.90" width="5.0" height="43.80" fill="#e30000" stroke="#e30000" stroke-width="0.7"/>
<rect x="1425.37" y="96.80" width="0.9" height="31.60" fill="#e30000"/>
<rect x="1423.32" y="121.40" width="5.0" height="5.30" fill="#e30000" stroke="#e30000" stroke-width="0.7"/>
<rect x="1432.90" y="115.60" width="0.9" height="17.10" fill="#1f8048"/>
<rect x="1430.85" y="116.10" width="5.0" height="10.60" fill="#308a58" stroke="#1f8048" stroke-width="0.7"/>
<rect x="1440.42" y="107.30" width="0.9" height="19.40" fill="#e30000"/>
<rect x="1438.37" y="116.10" width="5.0" height="3.30" fill="#e30000" stroke="#e30000" stroke-width="0.7"/>
<rect x="1447.94" y="117.20" width="0.9" height="32.40" fill="#e30000"/>
<rect x="1445.89" y="119.70" width="5.0" height="29.90" fill="#e30000" stroke="#e30000" stroke-width="0.7"/>
</g>
<line x1="9" y1="149.5" x2="1480" y2="149.5" stroke="#e30000" stroke-opacity="0.72" stroke-width="1" stroke-dasharray="1.2 1.15"/>
<g clip-path="url(#cr)"><polyline fill="none" stroke="#7a50cc" stroke-width="1.6" stroke-linejoin="round" points="4.0,489.3 11.5,494.9 19.0,503.1 26.5,502.3 34.1,494.5 41.6,490.7 49.1,499.5 56.6,497.4 64.2,500.2 71.7,506.9 79.2,525.0 86.7,517.3 94.3,517.7 101.8,512.7 109.3,511.7 116.8,500.8 124.3,497.5 131.9,507.8 139.4,513.3 146.9,510.7 154.4,491.5 162.0,505.3 169.5,508.9 177.0,524.6 184.5,520.7 192.1,514.1 199.6,520.4 207.1,492.3 214.6,487.5 222.1,482.9 229.7,501.4 237.2,486.6 244.7,479.7 252.2,486.5 259.8,487.7 267.3,488.2 274.8,477.1 282.3,472.8 289.9,486.0 297.4,482.1 304.9,470.6 312.4,476.4 319.9,479.2 327.5,480.6 335.0,485.8 342.5,499.3 350.0,506.4 357.6,514.6 365.1,508.3 372.6,503.5 380.1,509.0 387.6,525.3 395.2,534.6 402.7,525.8 410.2,527.5 417.7,539.6 425.3,520.2 432.8,513.8 440.3,515.9 447.8,509.6 455.4,512.2 462.9,511.1 470.4,513.9 477.9,501.9 485.4,507.0 493.0,521.1 500.5,507.6 508.0,537.4 515.5,545.8 523.1,538.8 530.6,527.8 538.1,526.7 545.6,528.1 553.2,529.0 560.7,541.0 568.2,541.2 575.7,521.5 583.2,536.0 590.8,545.6 598.3,552.9 605.8,555.6 613.3,542.1 620.9,554.2 628.4,547.2 635.9,551.5 643.4,534.9 651.0,524.9 658.5,514.7 666.0,516.1 673.5,513.2 681.0,523.7 688.6,528.3 696.1,523.4 703.6,509.4 711.1,507.9 718.7,505.7 726.2,519.0 733.7,522.5 741.2,532.1 748.8,519.4 756.3,521.4 763.8,528.4 771.3,524.4 778.8,516.6 786.4,530.5 793.9,511.3 801.4,519.6 808.9,522.7 816.5,511.7 824.0,498.3 831.5,487.8 839.0,480.3 846.6,469.4 854.1,470.0 861.6,470.5 869.1,461.3 876.6,464.2 884.2,462.9 891.7,456.8 899.2,456.1 906.7,450.3 914.3,445.5 921.8,459.6 929.3,449.6 936.8,448.1 944.4,442.1 951.9,459.6 959.4,454.2 966.9,454.2 974.4,456.5 982.0,462.9 989.5,473.5 997.0,462.0 1004.5,479.5 1012.1,496.5 1019.6,460.0 1027.1,481.3 1034.6,471.3 1042.2,463.5 1049.7,458.0 1057.2,451.3 1064.7,447.5 1072.2,449.9 1079.8,465.7 1087.3,466.0 1094.8,459.1 1102.3,453.5 1109.9,447.9 1117.4,465.6 1124.9,466.2 1132.4,486.1 1140.0,484.2 1147.5,493.9 1155.0,481.7 1162.5,482.9 1170.0,482.3 1177.6,497.9 1185.1,492.4 1192.6,488.5 1200.1,483.2 1207.7,478.7 1215.2,471.4 1222.7,472.5 1230.2,476.7 1237.7,474.4 1245.3,451.8 1252.8,449.5 1260.3,469.1 1267.8,464.1 1275.4,463.0 1282.9,464.7 1290.4,465.6 1297.9,468.1 1305.5,467.3 1313.0,458.1 1320.5,458.9 1328.0,444.9 1335.5,457.6 1343.1,481.0 1350.6,471.1 1358.1,465.6 1365.6,462.5 1373.2,454.4 1380.7,456.7 1388.2,471.6 1395.7,473.8 1403.3,479.6 1410.8,469.9 1418.3,504.6 1425.8,507.7 1433.3,500.0 1440.9,502.3 1448.4,520.8"/></g>
<g clip-path="url(#cmo)"><polyline fill="none" stroke="#2196f3" stroke-width="1.7" stroke-linejoin="round" points="4.0,629.3 11.5,636.7 19.0,640.9 26.5,641.0 34.1,630.1 41.6,629.6 49.1,630.6 56.6,637.0 64.2,631.8 71.7,645.4 79.2,645.6 86.7,638.7 94.3,634.2 101.8,632.6 109.3,636.4 116.8,634.1 124.3,628.3 131.9,633.8 139.4,635.0 146.9,630.8 154.4,612.6 162.0,622.0 169.5,623.5 177.0,634.0 184.5,632.9 192.1,634.8 199.6,639.4 207.1,622.5 214.6,617.4 222.1,615.8 229.7,632.2 237.2,618.0 244.7,611.8 252.2,606.6 259.8,608.7 267.3,611.4 274.8,602.0 282.3,611.8 289.9,619.9 297.4,620.3 304.9,604.6 312.4,615.1 319.9,620.6 327.5,617.9 335.0,619.3 342.5,624.4 350.0,633.7 357.6,640.3 365.1,632.4 372.6,632.7 380.1,641.9 387.6,647.6 395.2,652.2 402.7,648.6 410.2,647.6 417.7,649.8 425.3,639.6 432.8,633.1 440.3,636.6 447.8,636.0 455.4,634.9 462.9,626.5 470.4,622.0 477.9,621.0 485.4,622.0 493.0,620.6 500.5,623.0 508.0,643.1 515.5,649.2 523.1,648.9 530.6,643.2 538.1,643.2 545.6,642.9 553.2,647.5 560.7,653.6 568.2,647.5 575.7,645.3 583.2,637.5 590.8,638.4 598.3,648.4 605.8,655.9 613.3,651.1 620.9,662.9 628.4,659.5 635.9,656.1 643.4,648.6 651.0,650.7 658.5,635.6 666.0,628.6 673.5,619.8 681.0,623.9 688.6,632.6 696.1,617.7 703.6,614.0 711.1,608.7 718.7,614.9 726.2,627.5 733.7,635.0 741.2,640.6 748.8,636.7 756.3,630.8 763.8,631.9 771.3,632.5 778.8,636.0 786.4,645.6 793.9,638.1 801.4,635.8 808.9,635.6 816.5,623.9 824.0,622.4 831.5,614.9 839.0,605.3 846.6,598.9 854.1,602.3 861.6,593.7 869.1,595.5 876.6,591.2 884.2,588.2 891.7,588.9 899.2,595.3 906.7,597.1 914.3,598.2 921.8,610.9 929.3,602.8 936.8,601.3 944.4,602.7 951.9,607.7 959.4,604.4 966.9,608.8 974.4,610.1 982.0,616.5 989.5,624.0 997.0,612.4 1004.5,626.8 1012.1,635.7 1019.6,614.3 1027.1,620.6 1034.6,615.5 1042.2,607.2 1049.7,600.0 1057.2,589.3 1064.7,580.5 1072.2,588.7 1079.8,590.9 1087.3,583.4 1094.8,603.0 1102.3,584.3 1109.9,586.7 1117.4,604.6 1124.9,611.5 1132.4,632.2 1140.0,636.0 1147.5,641.2 1155.0,622.4 1162.5,623.0 1170.0,629.6 1177.6,645.9 1185.1,648.9 1192.6,636.5 1200.1,632.3 1207.7,616.8 1215.2,612.6 1222.7,606.7 1230.2,618.7 1237.7,616.3 1245.3,597.3 1252.8,584.8 1260.3,598.2 1267.8,596.5 1275.4,599.4 1282.9,603.4 1290.4,609.5 1297.9,610.0 1305.5,607.5 1313.0,602.5 1320.5,622.3 1328.0,613.1 1335.5,608.4 1343.1,623.4 1350.6,617.0 1358.1,611.8 1365.6,608.8 1373.2,600.4 1380.7,602.0 1388.2,615.0 1395.7,615.8 1403.3,630.3 1410.8,618.8 1418.3,627.7 1425.8,637.2 1433.3,637.1 1440.9,641.1 1448.4,661.7"/></g>
<g font-size="10.3" fill="#262a35">
<g clip-path="url(#am)">
<text class="ax" x="1487.5" y="25.20" textLength="31.6" lengthAdjust="spacingAndGlyphs" stroke="#262a35" stroke-width="0.12">111.00</text>
<text class="ax" x="1487.5" y="59.40" textLength="31.6" lengthAdjust="spacingAndGlyphs" stroke="#262a35" stroke-width="0.12">110.00</text>
<text class="ax" x="1487.5" y="93.60" textLength="31.6" lengthAdjust="spacingAndGlyphs" stroke="#262a35" stroke-width="0.12">109.00</text>
<text class="ax" x="1487.5" y="127.80" textLength="31.6" lengthAdjust="spacingAndGlyphs" stroke="#262a35" stroke-width="0.12">108.00</text>
<text class="ax" x="1487.5" y="162.00" textLength="31.6" lengthAdjust="spacingAndGlyphs" stroke="#262a35" stroke-width="0.12">107.00</text>
<text class="ax" x="1487.5" y="196.20" textLength="31.6" lengthAdjust="spacingAndGlyphs" stroke="#262a35" stroke-width="0.12">106.00</text>
<text class="ax" x="1487.5" y="230.40" textLength="31.6" lengthAdjust="spacingAndGlyphs" stroke="#262a35" stroke-width="0.12">105.00</text>
<text class="ax" x="1487.5" y="264.60" textLength="31.6" lengthAdjust="spacingAndGlyphs" stroke="#262a35" stroke-width="0.12">104.00</text>
<text class="ax" x="1487.5" y="298.80" textLength="31.6" lengthAdjust="spacingAndGlyphs" stroke="#262a35" stroke-width="0.12">103.00</text>
<text class="ax" x="1487.5" y="333.00" textLength="31.6" lengthAdjust="spacingAndGlyphs" stroke="#262a35" stroke-width="0.12">102.00</text>
<text class="ax" x="1487.5" y="367.20" textLength="31.6" lengthAdjust="spacingAndGlyphs" stroke="#262a35" stroke-width="0.12">101.00</text>
<text class="ax" x="1487.5" y="401.40" textLength="31.6" lengthAdjust="spacingAndGlyphs" stroke="#262a35" stroke-width="0.12">100.00</text>
</g>
<g clip-path="url(#ar)">
<text class="ax" x="1487" y="432.44" textLength="26.3" lengthAdjust="spacingAndGlyphs" stroke="#262a35" stroke-width="0.12">80.00</text>
<text class="ax" x="1487" y="478.38" textLength="26.3" lengthAdjust="spacingAndGlyphs" stroke="#262a35" stroke-width="0.12">60.00</text>
<text class="ax" x="1487" y="524.32" textLength="26.3" lengthAdjust="spacingAndGlyphs" stroke="#262a35" stroke-width="0.12">40.00</text>
<text class="ax" x="1487" y="570.26" textLength="26.3" lengthAdjust="spacingAndGlyphs" stroke="#262a35" stroke-width="0.12">20.00</text>
</g>
<g clip-path="url(#amo)">
<text class="ax" x="1487.3" y="598.40" textLength="19.8" lengthAdjust="spacingAndGlyphs" stroke="#262a35" stroke-width="0.12">2.00</text>
<text class="ax" x="1487.3" y="628.50" textLength="19.8" lengthAdjust="spacingAndGlyphs" stroke="#262a35" stroke-width="0.12">0.00</text>
<text class="ax" x="1487.3" y="658.60" textLength="26" lengthAdjust="spacingAndGlyphs" stroke="#262a35" stroke-width="0.12">−2.00</text>
</g>
<text class="ax" x="71.68" y="687" text-anchor="middle" stroke="#262a35" stroke-width="0.12">14</text>
<text class="ax" x="177.01" y="687" text-anchor="middle" stroke="#262a35" stroke-width="0.12">Jun</text>
<text class="ax" x="244.71" y="687" text-anchor="middle" stroke="#262a35" stroke-width="0.12">14</text>
<text class="ax" x="327.47" y="687" text-anchor="middle" stroke="#262a35" stroke-width="0.12">Jul</text>
<text class="ax" x="395.17" y="687" text-anchor="middle" stroke="#262a35" stroke-width="0.12">12</text>
<text class="ax" x="500.50" y="687" text-anchor="middle" stroke="#262a35" stroke-width="0.12">Aug</text>
<text class="ax" x="568.20" y="687" text-anchor="middle" stroke="#262a35" stroke-width="0.12">14</text>
<text class="ax" x="666.00" y="687" text-anchor="middle" stroke="#262a35" stroke-width="0.12">Sep</text>
<text class="ax" x="733.71" y="687" text-anchor="middle" stroke="#262a35" stroke-width="0.12">13</text>
<text class="ax" x="823.98" y="687" text-anchor="middle" stroke="#262a35" stroke-width="0.12">Oct</text>
<text class="ax" x="891.69" y="687" text-anchor="middle" stroke="#262a35" stroke-width="0.12">14</text>
<text class="ax" x="997.01" y="687" text-anchor="middle" stroke="#262a35" stroke-width="0.12">Nov</text>
<text class="ax" x="1064.72" y="687" text-anchor="middle" stroke="#262a35" stroke-width="0.12">14</text>
<text class="ax" x="1155.00" y="687" text-anchor="middle" stroke="#262a35" stroke-width="0.12">Dec</text>
<text class="ax" x="1222.70" y="687" text-anchor="middle" stroke="#262a35" stroke-width="0.12">13</text>
<text class="ax" x="1320.50" y="687" text-anchor="middle" font-weight="bold" stroke="#262a35" stroke-width="0.12">2025</text>
<text class="ax" x="1388.21" y="687" text-anchor="middle" stroke="#262a35" stroke-width="0.12">14</text>
</g>
<rect x="1480.3" y="143" width="43.4" height="12.8" rx="1" fill="#e30000"/>
<text x="1488.1" y="153.1" font-size="10.3" fill="#ffffff" textLength="30.8" lengthAdjust="spacingAndGlyphs" stroke="#ffffff" stroke-width="0.22">107.27</text>
<rect x="1480.4" y="514.9" width="37.2" height="13.3" rx="1" fill="#7e57c2"/>
<text x="1487" y="525.1" font-size="10.3" fill="#ffffff" textLength="26.2" lengthAdjust="spacingAndGlyphs" stroke="#ffffff" stroke-width="0.22">40.05</text>
<rect x="1480.4" y="655.2" width="37.2" height="13.5" rx="1" fill="#2196f3"/>
<text x="1487.2" y="665.8" font-size="10.3" fill="#ffffff" textLength="26" lengthAdjust="spacingAndGlyphs" stroke="#ffffff" stroke-width="0.22">−2.38</text>
<rect x="13.9" y="16" width="94.2" height="10" fill="#ffffff"/>
<rect x="112.7" y="16" width="37.4" height="10" fill="#ffffff"/>
<rect x="154.7" y="16" width="37.1" height="10" fill="#ffffff"/>
<rect x="196.6" y="16" width="34.8" height="10" fill="#ffffff"/>
<rect x="236.0" y="16" width="36.1" height="10" fill="#ffffff"/>
<rect x="277.1" y="16" width="69.3" height="10" fill="#ffffff"/>
<g font-size="10.3" fill="#131722">
<text x="14.7" y="23.8" textLength="92.6" lengthAdjust="spacingAndGlyphs" stroke="#131722" stroke-width="0.22">Dollar Index Spot, 1D</text>
<text x="113.5" y="23.8" fill="#131722" textLength="7.3" lengthAdjust="spacingAndGlyphs" stroke="#131722" stroke-width="0.22">O</text>
<text x="121.3" y="23.8" fill="#e31e24" textLength="28" lengthAdjust="spacingAndGlyphs" stroke="#e31e24" stroke-width="0.22">108.14</text>
<text x="155.5" y="23.8" fill="#131722" textLength="6.8" lengthAdjust="spacingAndGlyphs" stroke="#131722" stroke-width="0.22">H</text>
<text x="162.8" y="23.8" fill="#e31e24" textLength="28.2" lengthAdjust="spacingAndGlyphs" stroke="#e31e24" stroke-width="0.22">108.19</text>
<text x="197.4" y="23.8" fill="#131722" textLength="5.0" lengthAdjust="spacingAndGlyphs" stroke="#131722" stroke-width="0.22">L</text>
<text x="202.7" y="23.8" fill="#e31e24" textLength="27.9" lengthAdjust="spacingAndGlyphs" stroke="#e31e24" stroke-width="0.22">107.26</text>
<text x="236.8" y="23.8" fill="#131722" textLength="7.0" lengthAdjust="spacingAndGlyphs" stroke="#131722" stroke-width="0.22">C</text>
<text x="244.2" y="23.8" fill="#e31e24" textLength="27.1" lengthAdjust="spacingAndGlyphs" stroke="#e31e24" stroke-width="0.22">107.27</text>
<text x="277.9" y="23.8" fill="#e31e24" textLength="67.7" lengthAdjust="spacingAndGlyphs" stroke="#e31e24" stroke-width="0.22">−0.87 (−0.81%)</text>
<text x="14.5" y="444" textLength="34.1" lengthAdjust="spacingAndGlyphs" stroke="#131722" stroke-width="0.22">RSI (14)</text>
<text x="55" y="444" fill="#7e57c2" textLength="26" lengthAdjust="spacingAndGlyphs" stroke="#7e57c2" stroke-width="0.22">40.05</text>
<text x="14.6" y="585.7" textLength="70.4" lengthAdjust="spacingAndGlyphs" stroke="#131722" stroke-width="0.22">Mom (10, close)</text>
<text x="92" y="585.7" fill="#2196f3" textLength="25" lengthAdjust="spacingAndGlyphs" stroke="#2196f3" stroke-width="0.22">−2.38</text>
</g>
<g fill="#131722">
<rect x="8" y="703.9" width="5.75" height="2.7"/>
<rect x="11.05" y="703.9" width="2.7" height="7.55"/>
<circle cx="16.6" cy="705.3" r="1.45"/>
<polygon points="20.1,703.9 23.2,703.9 20.7,711.45 17.1,711.45"/>
</g>
<text x="26.9" y="712.5" font-size="10.6" fill="#131722" textLength="58.2" lengthAdjust="spacingAndGlyphs" stroke="#131722" stroke-width="0.22">TradingView</text>
</svg>
</body></html>
